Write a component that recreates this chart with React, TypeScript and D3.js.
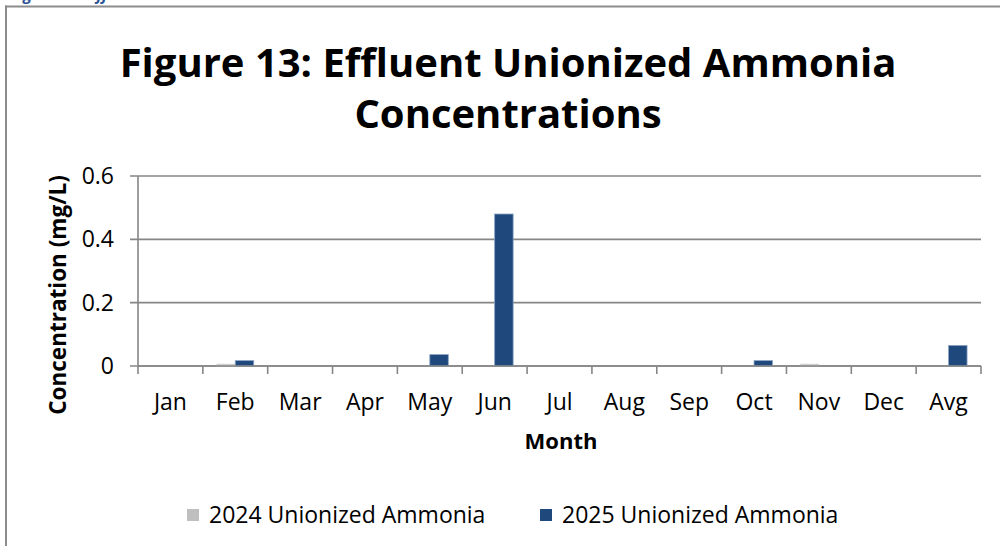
import React from "react";
import * as d3 from "d3";

const months = ["Jan", "Feb", "Mar", "Apr", "May", "Jun", "Jul", "Aug", "Sep", "Oct", "Nov", "Dec", "Avg"];
const seriesNames = ["2024 Unionized Ammonia", "2025 Unionized Ammonia"];
const values2024 = [0, 0.006, 0, 0, 0, 0, 0, 0, 0, 0, 0.006, 0, 0];
const values2025 = [0, 0.017, 0, 0, 0.036, 0.48, 0, 0, 0, 0.017, 0, 0, 0.065];
const yTicks = [0, 0.2, 0.4, 0.6];
const colors = ["#bfbfbf", "#1f497d"];

const FONT = "'Open Sans', sans-serif";

export default function App() {
  const left = 138, right = 981, top = 176, bottom = 366;
  const x0 = d3.scaleBand<string>().domain(months).range([left, right]).paddingInner(0).paddingOuter(0);
  const bw = x0.bandwidth();
  const x1 = d3.scaleBand<string>().domain(seriesNames).range([bw * 0.215, bw * 0.785]).padding(0);
  const y = d3.scaleLinear().domain([0, 0.6]).range([bottom, top]);
  const series = [values2024, values2025];
  const axisColor = "#868686";

  return (
    <svg width={1000} height={546} style={{ position: "absolute", left: 0, top: 0, background: "#fff" }}>
      <rect x={0} y={0} width={1000} height={546} fill="#fff" />
      <text x={10} y={-0.5} fontFamily={FONT} fontSize={16} fontWeight="bold" fontStyle="italic" fill="#2e5597">
        Figure 13: Effluent Unionized Ammonia Concentrations
      </text>
      <line x1={5} x2={1000} y1={6.5} y2={6.5} stroke="#8c8c8c" strokeWidth={2} />
      <line x1={6} x2={6} y1={5.5} y2={546} stroke="#8c8c8c" strokeWidth={2} />

      <text x={508} y={77} textAnchor="middle" fontFamily={FONT} fontSize={40} fontWeight="bold" fill="#000">
        Figure 13: Effluent Unionized Ammonia
      </text>
      <text x={508} y={128} textAnchor="middle" fontFamily={FONT} fontSize={40} fontWeight="bold" fill="#000">
        Concentrations
      </text>

      {yTicks.map((t) => (
        <g key={t}>
          <line x1={left - 8} x2={right} y1={y(t)} y2={y(t)} stroke={axisColor} strokeWidth={1.6} />
          <text x={114} y={y(t) + 8} textAnchor="end" fontFamily={FONT} fontSize={23} fill="#000">
            {t === 0 ? "0" : t.toFixed(1)}
          </text>
        </g>
      ))}
      <line x1={left} x2={left} y1={top} y2={bottom + 8} stroke={axisColor} strokeWidth={1.6} />
      {months.map((m) => (
        <line key={"tk" + m} x1={x0(m)! + bw} x2={x0(m)! + bw} y1={bottom} y2={bottom + 8} stroke={axisColor} strokeWidth={1.6} />
      ))}

      {series.map((vals, si) =>
        vals.map((v, i) =>
          v > 0 ? (
            <rect
              key={si + "-" + i}
              x={x0(months[i])! + x1(seriesNames[si])!}
              y={y(v)}
              width={x1.bandwidth()}
              height={y(0) - y(v)}
              fill={colors[si]}
              stroke={si === 1 ? "#8aa3c4" : "#dcdcdc"}
              strokeWidth={0.8}
            />
          ) : null
        )
      )}
      <line x1={left} x2={right} y1={bottom} y2={bottom} stroke={axisColor} strokeWidth={1.6} />

      {months.map((m) => (
        <text key={"lb" + m} x={x0(m)! + bw / 2} y={410} textAnchor="middle" fontFamily={FONT} fontSize={23} fill="#000">
          {m}
        </text>
      ))}
      <text x={561} y={449} textAnchor="middle" fontFamily={FONT} fontSize={22} fontWeight="bold" fill="#000">
        Month
      </text>
      <text transform="translate(66,295) rotate(-90)" textAnchor="middle" fontFamily={FONT} fontSize={22.5} fontWeight="bold" fill="#000">
        Concentration (mg/L)
      </text>

      {seriesNames.map((s, i) => {
        const lx = [187, 540][i];
        return (
          <g key={s}>
            <rect x={lx} y={509} width={12} height={12} fill={colors[i]} />
            <text x={lx + 22} y={523} fontFamily={FONT} fontSize={23} fill="#000">
              {s}
            </text>
          </g>
        );
      })}
    </svg>
  );
}
